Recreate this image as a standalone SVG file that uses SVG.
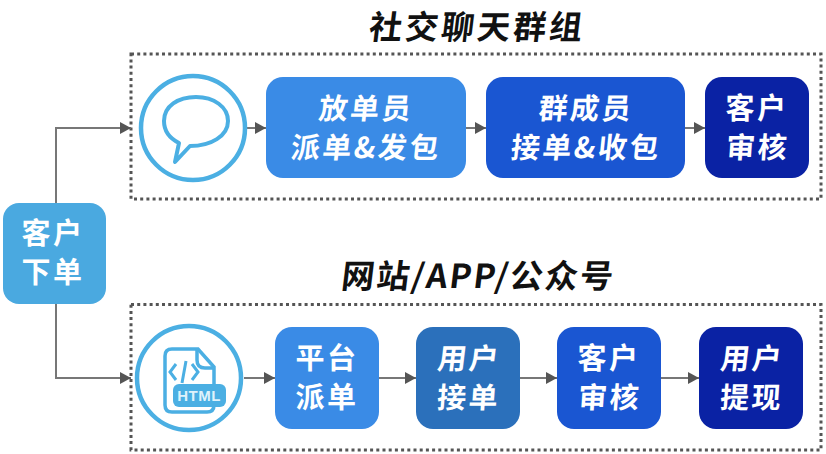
<svg xmlns="http://www.w3.org/2000/svg" width="826" height="454" viewBox="0 0 826 454">
<style>
text{font-family:"Noto Sans CJK SC","Liberation Sans",sans-serif;text-anchor:middle}
.l{font-size:29px;font-weight:700;fill:#fff;letter-spacing:2.5px}
.t{font-size:33px;font-weight:700;fill:#111}
.b{fill:none;stroke:#555;stroke-width:3;stroke-dasharray:3 3.2}
.c{fill:none;stroke:#777;stroke-width:2}
.i{fill:#fff;stroke:#4bafe3;stroke-width:4.5}
</style>
<defs><marker id="a" markerUnits="userSpaceOnUse" markerWidth="12" markerHeight="12" refX="11" refY="6" orient="auto"><path d="M0 0L11 6L0 12Z" fill="#555"/></marker></defs>
<rect width="826" height="454" fill="#fff"/>
<rect class="b" x="131" y="54" width="690" height="145"/>
<rect class="b" x="131" y="304.500" width="690" height="145.500"/>
<text class="t" transform="translate(476 38.500) skewX(-7)" letter-spacing="3">社交聊天群组</text>
<text class="t" transform="translate(477 288) skewX(-7)" letter-spacing="2">网站/APP/公众号</text>
<g id="connectors">
<path class="c" marker-end="url(#a)" d="M56 203V128H131"/>
<path class="c" marker-end="url(#a)" d="M56 304V378H131"/>
<path class="c" marker-end="url(#a)" d="M245 128H266"/>
<path class="c" marker-end="url(#a)" d="M465 128H486"/>
<path class="c" marker-end="url(#a)" d="M685 128H705"/>
<path class="c" marker-end="url(#a)" d="M244 378H275"/>
<path class="c" marker-end="url(#a)" d="M379 378H416"/>
<path class="c" marker-end="url(#a)" d="M520 378H557"/>
<path class="c" marker-end="url(#a)" d="M661 378H699"/>
</g>
<g id="n-order"><rect x="3" y="203" width="103" height="101" rx="16" fill="#4aa9e0"/><text class="l" x="53" y="244">客户</text><text class="l" x="53" y="283">下单</text></g>
<g id="n-chat"><circle class="i" cx="193" cy="128" r="52"/><path d="M175 162L179 143C169 138 164 130 164 121C164 106 178 97 196 97C214 97 228 107 228 121C228 136 211 146 190 146Z" fill="none" stroke="#4bafe3" stroke-width="4" stroke-linejoin="round"/></g>
<g id="n-1"><rect x="266" y="77" width="200" height="101" rx="17" fill="#3a8be6"/><text class="l" transform="translate(365 119) skewX(-6)">放单员</text><text class="l" transform="translate(365 158) skewX(-6)">派单&amp;发包</text></g>
<g id="n-2"><rect x="486" y="77" width="199" height="101" rx="17" fill="#1a56d2"/><text class="l" transform="translate(585 119) skewX(-6)">群成员</text><text class="l" transform="translate(585 158) skewX(-6)">接单&amp;收包</text></g>
<g id="n-3"><rect x="705" y="77" width="104" height="101" rx="17" fill="#0a22a4"/><text class="l" x="757" y="119">客户</text><text class="l" transform="translate(757 158) skewX(-4)">审核</text></g>
<g id="n-html"><circle class="i" cx="189" cy="378" r="52"/><path d="M198 349H172Q165 349 165 356V405Q165 412 172 412H207Q214 412 214 405V367Z" fill="none" stroke="#4bafe3" stroke-width="3.500"/><path d="M197 349V360Q197 368 205 368H214" fill="none" stroke="#4bafe3" stroke-width="3.500"/><path d="M176 364L170 372L176 380M192 364L198 372L192 380M186 361L182 383" fill="none" stroke="#4bafe3" stroke-width="3"/><rect x="173" y="384" width="53" height="23" rx="6" fill="#4bafe3"/><text x="199" y="401" letter-spacing="0.500" style="font-family:'Liberation Sans',sans-serif;font-size:15px;font-weight:700;fill:#dff2fb">HTML</text></g>
<g id="n-4"><rect x="275" y="327" width="104" height="102" rx="17" fill="#3a8be6"/><text class="l" x="327" y="369">平台</text><text class="l" x="327" y="408">派单</text></g>
<g id="n-5"><rect x="416" y="327" width="104" height="102" rx="17" fill="#2b70bb"/><text class="l" transform="translate(468 369) skewX(-7)">用户</text><text class="l" transform="translate(468 408) skewX(-4)">接单</text></g>
<g id="n-6"><rect x="557" y="327" width="104" height="102" rx="17" fill="#1a56d2"/><text class="l" x="609" y="369">客户</text><text class="l" transform="translate(609 408) skewX(-4)">审核</text></g>
<g id="n-7"><rect x="699" y="327" width="104" height="102" rx="17" fill="#0a22a4"/><text class="l" transform="translate(751 369) skewX(-7)">用户</text><text class="l" transform="translate(751 408) skewX(-4)">提现</text></g>
</svg>
